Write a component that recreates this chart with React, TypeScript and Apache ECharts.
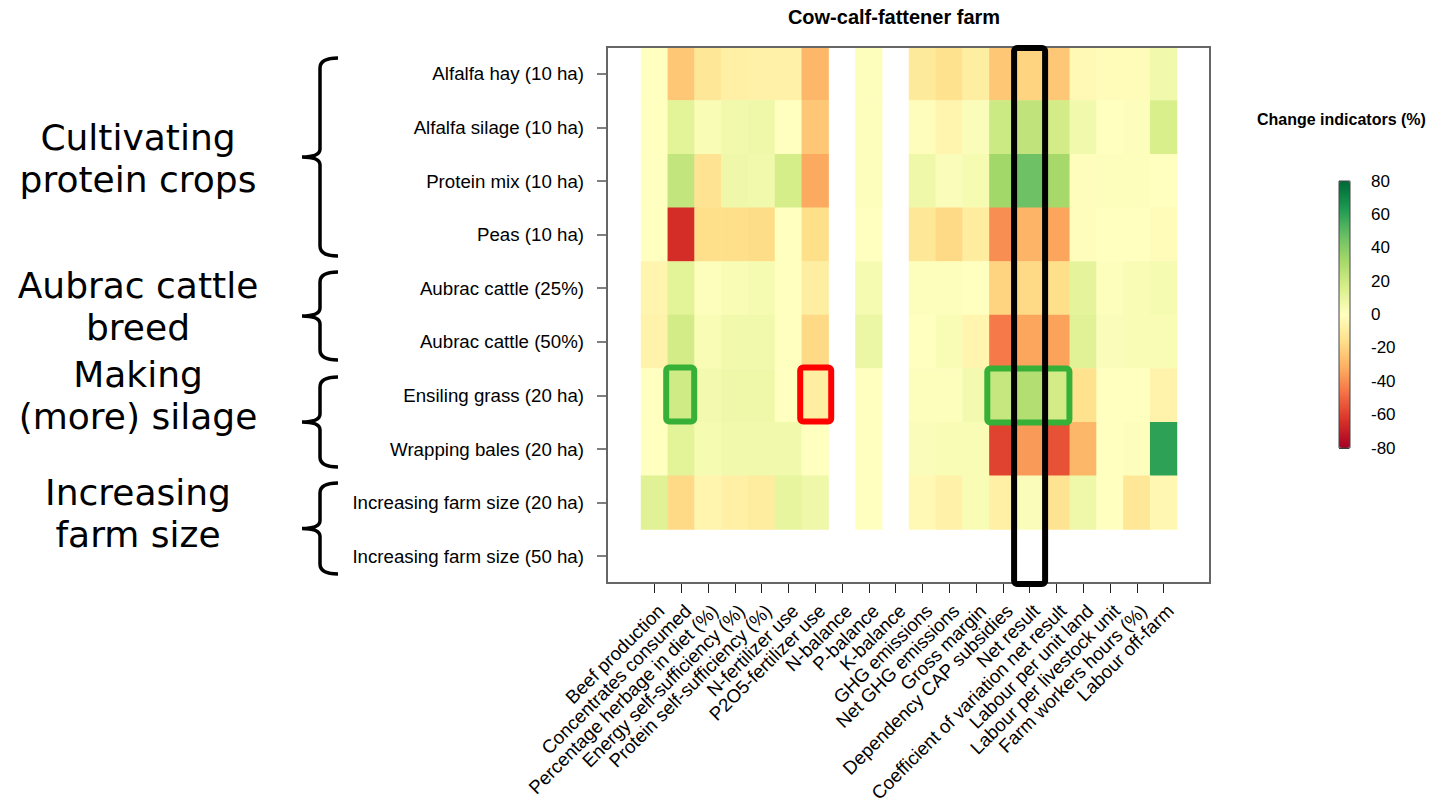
import React, { useEffect, useRef } from "react";
import * as echarts from "echarts";

const columns = [
  "Beef production",
  "Concentrates consumed",
  "Percentage herbage in diet (%)",
  "Energy self-sufficiency (%)",
  "Protein self-sufficiency (%)",
  "N-fertilizer use",
  "P2O5-fertilizer use",
  "N-balance",
  "P-balance",
  "K-balance",
  "GHG emissions",
  "Net GHG emissions",
  "Gross margin",
  "Dependency CAP subsidies",
  "Net result",
  "Coefficient of variation net result",
  "Labour per unit land",
  "Labour per livestock unit",
  "Farm workers hours (%)",
  "Labour off-farm",
];

const rows = [
  "Alfalfa hay (10 ha)",
  "Alfalfa silage (10 ha)",
  "Protein mix (10 ha)",
  "Peas (10 ha)",
  "Aubrac cattle (25%)",
  "Aubrac cattle (50%)",
  "Ensiling grass (20 ha)",
  "Wrapping bales (20 ha)",
  "Increasing farm size (20 ha)",
  "Increasing farm size (50 ha)",
];

const alfalfaHay = [0, -24, -12, -8, -7, -7, -29, null, 1, null, -11, -15, -9, -24, -20, -24, -3, -2, -2, 6];
const alfalfaSilage = [0, 12, 3, 6, 7, 0, -24, null, 1, null, -1, -5, 2, 20, 24, 18, 6, 0, 1, 16];
const proteinMix = [0, 23, -14, 7, 6, 17, -33, null, 1, null, 7, 2, 4, 33, 46, 32, -1, 1, 1, 0];
const peas = [0, -65, -16, -16, -17, 0, -16, null, 0, null, -12, -18, -10, -40, -30, -34, -1, 0, 0, -2];
const aubrac25 = [-5, 12, 1, 3, 4, 0, -9, null, 4, null, 1, 1, 0, -20, -18, -16, 11, 1, 3, 4];
const aubrac50 = [-6, 18, 3, 6, 6, 0, -18, null, 8, null, 0, 3, -5, -45, -34, -35, 13, 2, 3, 3];
const ensilingGrass = [0, 19, 5, 7, 7, 0, -9, null, 0, null, 1, 1, 5, 22, 28, 18, -15, 0, 0, -6];
const wrappingBales = [0, 12, 4, 6, 6, 6, 0, null, 0, null, 2, 3, 3, -59, -37, -55, -29, 0, 1, 60];
const farmSize20 = [13, -18, -5, -8, -10, 10, 7, null, 0, null, -3, -7, 3, -8, 2, -14, 7, 0, -12, -4];
const farmSize50: (number | null)[] = new Array(20).fill(null);

const matrix = [
  alfalfaHay,
  alfalfaSilage,
  proteinMix,
  peas,
  aubrac25,
  aubrac50,
  ensilingGrass,
  wrappingBales,
  farmSize20,
  farmSize50,
];

const groupLabels = [
  "Cultivating\nprotein crops",
  "Aubrac cattle\nbreed",
  "Making\n(more) silage",
  "Increasing\nfarm size",
];

const palette = [
  "#a50026", "#d73027", "#f46d43", "#fdae61", "#fee08b", "#ffffbf",
  "#d9ef8b", "#a6d96a", "#66bd63", "#1a9850", "#006837",
];

const FONT = "'Liberation Sans', Arial, Helvetica, sans-serif";
const GRID_LEFT = 641;
const GRID_TOP = 47;
const GRID_W = 536;
const GRID_H = 536;
const FRAME_LEFT = 607;
const FRAME_RIGHT = 1210;
const CB_LEFT = 1339;
const CB_TOP = 181;
const CB_W = 11;
const CB_H = 267;

const braceRanges = [
  [58, 256],
  [272, 360],
  [377, 467],
  [483, 574],
];
const groupCenters = [158, 306, 395, 513];

function bracePath(top: number, bottom: number) {
  const mid = (top + bottom) / 2;
  const xv = 320, xp = 302, xa = 338;
  return `M ${xa} ${top} Q ${xv} ${top} ${xv} ${top + 10} L ${xv} ${mid - 8} Q ${xv} ${mid} ${xp} ${mid} Q ${xv} ${mid} ${xv} ${mid + 8} L ${xv} ${bottom - 10} Q ${xv} ${bottom} ${xa} ${bottom}`;
}

braceRanges.forEach(([t, b], i) => {
  echarts.graphic.registerShape("brace" + i, echarts.graphic.extendPath(bracePath(t, b), {}) as any);
});

export default function App() {
  const ref = useRef<HTMLDivElement>(null);
  useEffect(() => {
    document.body.style.margin = "0";
    const chart = echarts.init(ref.current!, null, { renderer: "svg" });
    const data: [number, number, number][] = [];
    matrix.forEach((row, r) =>
      row.forEach((v, c) => {
        if (v !== null && v !== undefined) data.push([c, r, v as number]);
      })
    );

    chart.setOption({
      animation: false,
      backgroundColor: "#ffffff",
      title: {
        text: "Cow-calf-fattener farm",
        left: 894,
        top: 7,
        padding: 0,
        textAlign: "center",
        textStyle: { fontFamily: FONT, fontWeight: "bold", fontSize: 20, color: "#000" },
      },
      grid: [
        { left: GRID_LEFT, top: GRID_TOP, width: GRID_W, height: GRID_H, containLabel: false, outerBoundsMode: "none" },
        { left: CB_LEFT, top: CB_TOP, width: CB_W, height: CB_H, containLabel: false, outerBoundsMode: "none" },
      ],
      xAxis: [
        {
          type: "category",
          data: columns,
          gridIndex: 0,
          position: "bottom",
          axisLine: { show: false },
          axisTick: { show: true, alignWithLabel: true, length: 10, lineStyle: { color: "#222", width: 1 } },
          axisLabel: {
            rotate: 45,
            interval: 0,
            margin: 18,
            align: "right",
            verticalAlign: "top",
            fontFamily: FONT,
            fontSize: 18.7,
            color: "#000",
          },
          splitLine: { show: false },
        },
        { type: "value", gridIndex: 1, show: false, min: 0, max: 1 },
      ],
      yAxis: [
        {
          type: "category",
          data: rows,
          gridIndex: 0,
          inverse: true,
          offset: GRID_LEFT - FRAME_LEFT,
          axisLine: { show: false },
          axisTick: { show: true, alignWithLabel: true, length: 10, lineStyle: { color: "#555", width: 1.5 } },
          axisLabel: { margin: 23, fontFamily: FONT, fontSize: 18.7, color: "#000" },
          splitLine: { show: false },
        },
        {
          type: "value",
          gridIndex: 1,
          position: "right",
          min: -80,
          max: 80,
          interval: 20,
          axisLine: { show: false },
          axisTick: { show: true, length: 10, lineStyle: { color: "#333", width: 1 } },
          axisLabel: { margin: 21, fontFamily: FONT, fontSize: 17, color: "#000" },
          splitLine: { show: false },
        },
      ],
      visualMap: {
        type: "continuous",
        min: -80,
        max: 80,
        seriesIndex: 0,
        dimension: 2,
        show: true,
        calculable: false,
        hoverLink: false,
        left: CB_LEFT,
        top: CB_TOP,
        itemWidth: CB_W,
        itemHeight: CB_H,
        padding: 0,
        inRange: { color: palette },
      },
      series: [
        {
          type: "heatmap",
          xAxisIndex: 0,
          yAxisIndex: 0,
          data,
          itemStyle: { borderWidth: 0 },
          emphasis: { disabled: true },
        },
      ],
    });

    const px = (c: number, r: number) =>
      chart.convertToPixel({ seriesIndex: 0 }, [c, r]) as number[];
    const [nx] = px(columns.indexOf("Net result"), 0);
    const [g1x, g1y] = px(1, 6);
    const [r1x] = px(6, 6);
    const [g2x] = px(13, 6);
    const [g2xe] = px(15, 6);

    const graphics: any[] = [];
    graphics.push({
      type: "rect",
      z: 50,
      shape: { x: FRAME_LEFT, y: GRID_TOP, width: FRAME_RIGHT - FRAME_LEFT, height: GRID_H },
      style: { fill: "none", stroke: "#666", lineWidth: 2 },
    });
    graphics.push({
      type: "rect",
      z: 50,
      shape: { x: CB_LEFT, y: CB_TOP, width: CB_W, height: CB_H },
      style: { fill: "none", stroke: "#444", lineWidth: 1 },
    });
    graphics.push({
      type: "text",
      x: 1257,
      y: 119,
      style: {
        text: "Change indicators (%)",
        font: `bold 16px ${FONT}`,
        fill: "#000",
        textAlign: "left",
        textVerticalAlign: "middle",
      },
    });
    braceRanges.forEach((_, i) => {
      graphics.push({
        type: "brace" + i,
        style: { fill: "none", stroke: "#000", lineWidth: 3.5 },
      });
    });
    groupLabels.forEach((t, i) => {
      graphics.push({
        type: "text",
        x: 138,
        y: groupCenters[i],
        style: {
          text: t,
          font: `36px 'DejaVu Sans', 'Noto Sans', sans-serif`,
          lineHeight: 42,
          fill: "#000",
          textAlign: "center",
          textVerticalAlign: "middle",
        },
      });
    });
    graphics.push({
      type: "rect",
      z: 100,
      shape: { x: g1x - 15, y: g1y - 28, width: 28, height: 54, r: 3 },
      style: { fill: "none", stroke: "#36b037", lineWidth: 6 },
    });
    graphics.push({
      type: "rect",
      z: 100,
      shape: { x: r1x - 15, y: g1y - 28, width: 31, height: 54, r: 3 },
      style: { fill: "none", stroke: "#ff0000", lineWidth: 6 },
    });
    graphics.push({
      type: "rect",
      z: 100,
      shape: { x: g2x - 15.5, y: g1y - 27, width: g2xe - g2x + 28.5, height: 54, r: 3 },
      style: { fill: "none", stroke: "#36b037", lineWidth: 6 },
    });
    graphics.push({
      type: "rect",
      z: 101,
      shape: { x: nx - 15.5, y: GRID_TOP + 1, width: 31, height: GRID_H, r: 3 },
      style: { fill: "none", stroke: "#000", lineWidth: 6 },
    });

    chart.setOption({ graphic: graphics });
    return () => chart.dispose();
  }, []);
  return <div ref={ref} style={{ width: 1435, height: 806 }} />;
}
